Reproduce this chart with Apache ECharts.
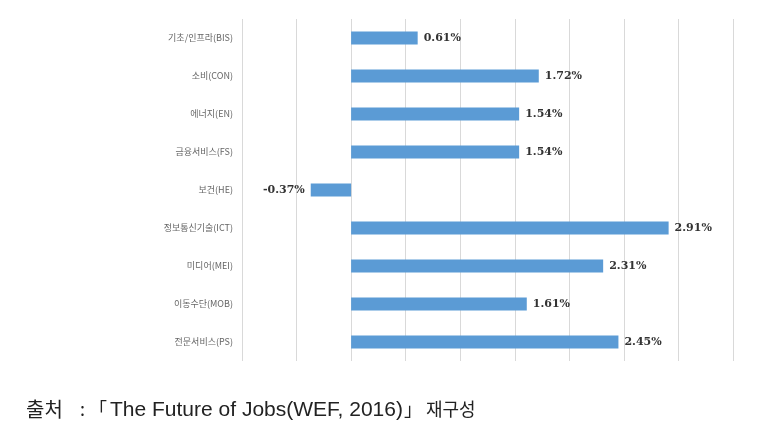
<!DOCTYPE html>
<html><head><meta charset="utf-8">
<script src="https://cdn.jsdelivr.net/npm/echarts@6/dist/echarts.min.js"></script>
<style>html,body{margin:0;padding:0;background:#fff}#c{width:775px;height:422px}</style>
</head><body><div id="c"></div>
<script>
const categories = ["기초/인프라(BIS)","소비(CON)","에너지(EN)","금융서비스(FS)","보건(HE)","정보통신기술(ICT)","미디어(MEI)","이동수단(MOB)","전문서비스(PS)"];
const values = [0.61, 1.72, 1.54, 1.54, -0.37, 2.91, 2.31, 1.61, 2.45];
const sourceParts = ["출처", ":", "「", "The Future of Jobs(WEF, 2016)", "」", "재구성"];

const chart = echarts.init(document.getElementById('c'));
const ko = {fill: '#222', fontSize: 18, fontFamily: 'Noto Sans CJK KR', verticalAlign: 'middle'};
const la = {fill: '#222', fontSize: 21, fontFamily: 'Liberation Sans', verticalAlign: 'middle'};
const fy = 409;
chart.setOption({
  backgroundColor: '#fff',
  animation: false,
  grid: {left: 242, right: 42, top: 19, bottom: 61, containLabel: false},
  xAxis: {
    type: 'value', min: -1, max: 3.5, interval: 0.5,
    axisLine: {show: false}, axisTick: {show: false}, axisLabel: {show: false},
    splitLine: {show: true, lineStyle: {color: '#d9d9d9', width: 1}}
  },
  yAxis: {
    type: 'category', data: categories, inverse: true,
    axisLine: {show: false}, axisTick: {show: false},
    axisLabel: {margin: 9, color: '#666', fontSize: 9, fontFamily: 'Noto Sans CJK KR'},
    splitLine: {show: false}
  },
  series: [{
    type: 'bar', barWidth: 13,
    data: values.map(v => ({
      value: v,
      label: {position: v < 0 ? 'left' : 'right'}
    })),
    itemStyle: {color: '#5B9BD5'},
    label: {
      show: true, distance: 6,
      formatter: p => p.value.toFixed(2) + '%',
      color: '#333', fontSize: 11, fontWeight: 'bold', fontFamily: 'DejaVu Serif'
    }
  }],
  graphic: [
    {type: 'text', x: 26, y: fy, style: Object.assign({text: sourceParts[0]}, ko, {fontSize: 20})},
    {type: 'text', x: 80, y: fy, style: Object.assign({text: sourceParts[1]}, ko)},
    {type: 'text', x: 89, y: fy, style: Object.assign({text: sourceParts[2]}, ko)},
    {type: 'text', x: 110, y: fy + 1, style: Object.assign({text: sourceParts[3]}, la)},
    {type: 'text', x: 404, y: fy, style: Object.assign({text: sourceParts[4]}, ko)},
    {type: 'text', x: 426, y: fy, style: Object.assign({text: sourceParts[5]}, ko)}
  ]
});
</script></body></html>
